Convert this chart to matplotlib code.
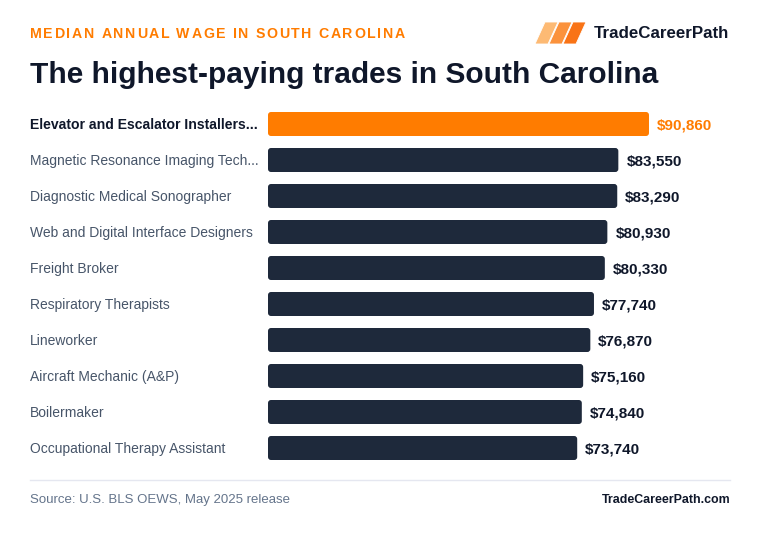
import matplotlib
matplotlib.use('Agg')

import matplotlib.pyplot as plt
from matplotlib.patches import FancyBboxPatch, Polygon

plt.rcParams['font.family'] = ['Liberation Sans', 'DejaVu Sans']

######################################################################
## DATA

trades = ['Elevator and Escalator Installers...',
          'Magnetic Resonance Imaging Tech...',
          'Diagnostic Medical Sonographer',
          'Web and Digital Interface Designers',
          'Freight Broker',
          'Respiratory Therapists',
          'Lineworker',
          'Aircraft Mechanic (A&P)',
          'Boilermaker',
          'Occupational Therapy Assistant']
wages = [90860, 83550, 83290, 80930, 80330, 77740, 76870, 75160, 74840, 73740]

######################################################################

ORANGE = '#ff7c00'
NAVY = '#1e293b'
DARK = '#0f172a'
SLATE = '#475569'

W, H = 760, 536
fig = plt.figure(figsize=(W / 100, H / 100), dpi=100)
fig.patch.set_facecolor('white')
renderer = fig.canvas.get_renderer()

def px(x, y):
    return x / W, 1 - y / H

# axes: x from 268 to 730 px, y from 106 to 466 px
ax = fig.add_axes([268 / W, 1 - 466 / H, (730 - 268) / W, 360 / H])
xmax = 110180
ax.set_xlim(0, xmax)
ax.set_ylim(len(trades) - 0.5, -0.5)
ax.axis('off')

x_per_px = xmax / 462.0
y_per_px = 1 / 36.0
bar_h = 24 / 36.0

for i, (name, val) in enumerate(zip(trades, wages)):
    c = ORANGE if i == 0 else NAVY
    box = FancyBboxPatch((0, i - bar_h / 2), val, bar_h,
                         boxstyle='round,pad=0,rounding_size=%f' % (3 * x_per_px),
                         mutation_aspect=y_per_px / x_per_px,
                         fc=c, ec='none')
    ax.add_patch(box)
    ax.text(val + 8 * x_per_px, i, '${:,}'.format(val), va='center_baseline',
            ha='left', fontsize=11, fontweight='bold',
            color=ORANGE if i == 0 else DARK)
    fig.text(30 / W, 1 - (125 + 36 * i) / H, name, va='center', ha='left',
             fontsize=10.1 if i == 0 else 10.0,
             fontweight='bold' if i == 0 else 'normal',
             color=DARK if i == 0 else SLATE)

# subtitle with letter spacing
sub = 'MEDIAN ANNUAL WAGE IN SOUTH CAROLINA'
xc = 30.0
for ch in sub:
    t = fig.text(xc / W, 1 - 34 / H, ch, va='center', ha='left', fontsize=10.2,
                 fontweight='bold', color=ORANGE)
    xc += t.get_window_extent(renderer).width + 1.62

# title
fig.text(30 / W, 1 - 75 / H, 'The highest-paying trades in South Carolina',
         va='center', ha='left', fontsize=21.5, fontweight='bold', color=DARK)

# logo
shades = ['#fdba74', '#fb923c', '#f97316']
for k, s in enumerate(shades):
    x0 = 535 + k * 14
    pts = [(x0, 44), (x0 + 10, 22), (x0 + 23, 22), (x0 + 13, 44)]
    fig.patches.append(Polygon([px(a, b) for a, b in pts], closed=True,
                               transform=fig.transFigure, fc=s, ec='white',
                               lw=0.6))
fig.text(594 / W, 1 - 33 / H, 'TradeCareerPath', va='center', ha='left',
         fontsize=12.2, fontweight='bold', color=DARK)

# footer
fig.add_artist(plt.Line2D([30 / W, 730 / W], [1 - 480 / H, 1 - 480 / H],
                          transform=fig.transFigure, color='#e5e7f0', lw=1))
fig.text(30 / W, 1 - 500 / H, 'Source: U.S. BLS OEWS, May 2025 release',
         va='center', ha='left', fontsize=9.5, color='#64748b')
fig.text(730 / W, 1 - 500 / H, 'TradeCareerPath.com', va='center', ha='right',
         fontsize=8.9, fontweight='bold', color=DARK)

plt.savefig('out.png', dpi=100, facecolor='white')
